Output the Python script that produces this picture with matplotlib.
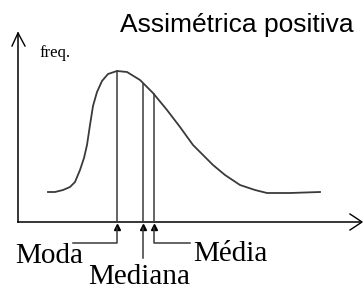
import matplotlib.pyplot as plt
import numpy as np

# curve (pixel-like units, origin = axis corner)
curve_px = [48, 55, 63, 70, 75, 80, 84, 87, 90, 93, 97, 102, 108, 117, 127, 140, 153, 167, 180, 193,
            200, 213, 225, 240, 255, 267, 290, 320]
curve_py = [192, 192, 190, 187, 182, 170, 158, 145, 125, 106, 92, 81, 74, 71, 72, 80, 93, 110, 127, 145,
            152, 165, 175, 185, 190, 193, 193, 192]

# mode, median, mean positions and where the curve is at each
measures = ["Moda", "Mediana", "Média"]
measure_px = [117, 143, 154]
measure_top = [71, 84, 94]

ox, oy = 18, 222  # axis corner


def tx(x):
    return np.asarray(x) - ox


def ty(y):
    return oy - np.asarray(y)


fig = plt.figure(figsize=(3.63, 2.90), dpi=100)
ax = fig.add_axes([0, 0, 1, 1])
ax.set_xlim(-ox, 363 - ox)
ax.set_ylim(oy - 290, oy)
ax.axis('off')

line_col = '#3a3a3a'

# axes with open arrow heads
ax.plot(tx([18, 18]), ty([222, 33]), color='black', lw=1.1)
ax.plot(tx([18, 360]), ty([222, 222]), color='black', lw=1.1)
ax.plot(tx([12, 18, 25]), ty([46, 33, 46]), color='black', lw=1.0)
ax.plot(tx([350, 362, 350]), ty([214, 222, 230]), color='black', lw=1.0)

# curve
ax.plot(tx(curve_px), ty(curve_py), color=line_col, lw=1.3)

# vertical lines
for x, top in zip(measure_px, measure_top):
    ax.plot(tx([x, x]), ty([top, 222]), color=line_col, lw=1.1)
    ax.plot(tx([x]), ty([227]), marker='^', color='black', markersize=4.5, lw=0)

# leader lines to labels
ax.plot(tx([117, 117, 73]), ty([228, 243, 243]), color=line_col, lw=1.1)
ax.plot(tx([143, 143]), ty([228, 258]), color=line_col, lw=1.1)
ax.plot(tx([154, 154, 190]), ty([228, 243, 243]), color=line_col, lw=1.1)

serif = 'Liberation Serif'
ax.text(tx(15), ty(256), measures[0], family=serif, fontsize=21, ha='left', va='center')
ax.text(tx(88), ty(277), measures[1], family=serif, fontsize=21, ha='left', va='center')
ax.text(tx(193), ty(254), measures[2], family=serif, fontsize=21, ha='left', va='center')
ax.text(tx(39), ty(53), "freq.", family=serif, fontsize=12, ha='left', va='center')

ax.text(tx(237), ty(25), "Assimétrica positiva", family='Liberation Sans', fontsize=19,
        ha='center', va='center')

plt.savefig('out.png', dpi=100)
